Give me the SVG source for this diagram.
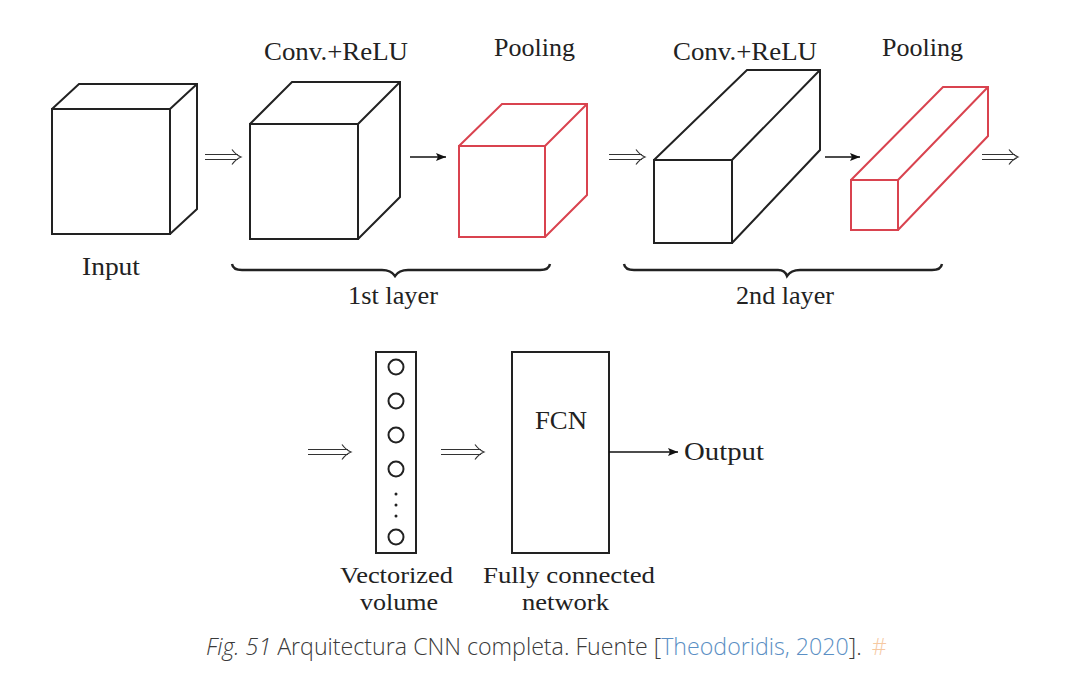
<svg xmlns="http://www.w3.org/2000/svg" width="1084" height="679" viewBox="0 0 1084 679">
<style>
.k{fill:none;stroke:#222;stroke-width:2;stroke-linejoin:miter}
.r{fill:none;stroke:#d9434f;stroke-width:2;stroke-linejoin:miter}
.c{fill:none;stroke:#222;stroke-width:2}
.d{fill:none;stroke:#333;stroke-width:1.2}
.s{fill:none;stroke:#111;stroke-width:1.7}
.b{fill:none;stroke:#222;stroke-width:2.4}
text{font-family:"Liberation Serif",serif;font-size:26px;fill:#222}
.two{font-size:24px}
.cap{font-family:"Open Sans","Noto Sans",sans-serif;font-size:23.2px;font-weight:300;fill:#3a3a3a}
</style>
<defs>
<marker id="ah" markerUnits="userSpaceOnUse" markerWidth="11" markerHeight="8" refX="10" refY="4" orient="auto"><path d="M0 0L10 4L0 8L2 4Z" fill="#111"/></marker>
<path id="dbl" d="M0 -2.5H33M0 2.5H33M27 -7.5Q31 -2 36 0Q31 2 27 7.5"/>
<path id="dbl2" d="M0 -2.5H40M0 2.5H40M34 -7.5Q38 -2 43 0Q38 2 34 7.5"/>
</defs>
<rect width="1084" height="679" fill="#fff"/>
<g id="input"><path class="k" d="M52 109H170V234H52ZM52 109L79 84H197V209L170 234M170 109L197 84"/><text x="82" y="275" textLength="58" lengthAdjust="spacingAndGlyphs">Input</text></g>
<g id="conv1"><path class="k" d="M250 124H358V239H250ZM250 124L292 82H400V197L358 239M358 124L400 82"/><text x="264" y="60" textLength="144" lengthAdjust="spacingAndGlyphs">Conv.+ReLU</text></g>
<g id="pool1"><path class="r" d="M459 146H545V237H459ZM459 146L502 104H587V195L545 237M545 146L587 104"/><text x="494" y="56" textLength="81" lengthAdjust="spacingAndGlyphs">Pooling</text></g>
<g id="conv2"><path class="k" d="M654 160H732V243H654ZM654 160L747 70H820V150L732 243M732 160L820 70"/><text x="673" y="60" textLength="144" lengthAdjust="spacingAndGlyphs">Conv.+ReLU</text></g>
<g id="pool2"><path class="r" d="M851 180H898V230H851ZM851 180L943 87H988V136L898 230M898 180L988 87"/><text x="882" y="56" textLength="81" lengthAdjust="spacingAndGlyphs">Pooling</text></g>
<g id="layer1"><path class="b" d="M232 264Q233 270 242 270H382Q391 270 395 276Q399 270 408 270H540Q549 270 550 264"/><text x="348" y="304" textLength="90" lengthAdjust="spacingAndGlyphs">1st layer</text></g>
<g id="layer2"><path class="b" d="M624 264Q625 270 634 270H778Q785 270 787 276Q791 270 800 270H932Q941 270 942 264"/><text x="736" y="304" textLength="98" lengthAdjust="spacingAndGlyphs">2nd layer</text></g>
<g id="vector"><rect class="c" x="376" y="352" width="40" height="201"/>
<g class="c"><circle cx="396" cy="367" r="7.5"/><circle cx="396" cy="401" r="7.5"/><circle cx="396" cy="435" r="7.5"/><circle cx="396" cy="469" r="7.5"/><circle cx="396" cy="537" r="7.5"/></g>
<g fill="#222"><circle cx="396" cy="494" r="1.5"/><circle cx="396" cy="505" r="1.5"/><circle cx="396" cy="516" r="1.5"/></g>
<text class="two" x="340" y="583" textLength="113" lengthAdjust="spacingAndGlyphs">Vectorized</text><text class="two" x="360" y="610" textLength="78" lengthAdjust="spacingAndGlyphs">volume</text></g>
<g id="fcn"><rect class="c" x="512" y="352" width="97" height="201"/><text x="535" y="429" textLength="52" lengthAdjust="spacingAndGlyphs">FCN</text>
<text class="two" x="483" y="583" textLength="172" lengthAdjust="spacingAndGlyphs">Fully connected</text><text class="two" x="522" y="610" textLength="87" lengthAdjust="spacingAndGlyphs">network</text></g>
<g id="output"><text x="684" y="460" textLength="80" lengthAdjust="spacingAndGlyphs">Output</text></g>
<g id="connectors">
<use href="#dbl" class="d" x="205" y="157"/><use href="#dbl" class="d" x="609" y="157"/><use href="#dbl" class="d" x="982" y="157"/>
<use href="#dbl2" class="d" x="308" y="452"/><use href="#dbl2" class="d" x="441" y="452"/>
<path class="s" d="M410 157H446" marker-end="url(#ah)"/><path class="s" d="M825 157H860" marker-end="url(#ah)"/><path class="s" d="M609 452H678" marker-end="url(#ah)"/>
</g>
<g id="caption"><text class="cap" x="206" y="655"><tspan font-style="italic">Fig. 51</tspan> Arquitectura CNN completa. Fuente [<tspan fill="#5b8fc4">Theodoridis, 2020</tspan>]. <tspan fill="#f6c9a2" dx="4">#</tspan></text></g>
</svg>
